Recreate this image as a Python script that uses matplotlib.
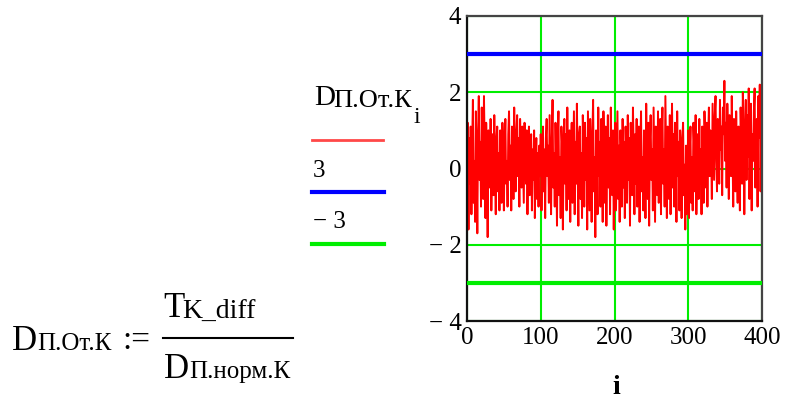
import matplotlib
matplotlib.use("Agg")
import matplotlib.pyplot as plt
import numpy as np

# ---- data ----
d_values = [
    0.3, 1.2, -1.6, 0.8, -0.4, 1.1, -1.2, 0.6, 1.8, -0.9, 0.2, -1.4, 1.5, 0.4, -1.7, 0.9, 1.9, -0.3, 0.7, -1.0,
    1.6, 0.1, -0.8, 1.9, 0.5, -1.3, 1.2, 0.3, -1.8, 1.0, 0.6, -0.5, 1.3, -1.1, 0.2, 0.9, -0.7, 1.4, 0.0, -1.2,
    0.8, 1.1, -0.6, 0.4, -1.1, 1.0, 0.3, -0.9, 1.2, 0.7, -1.1, 0.5, 1.3, -0.4, 0.2, -1.0, 0.9, 1.5, -0.3, 0.6,
    -1.1, 1.1, 0.4, -0.8, 1.6, 0.2, -0.6, 1.0, 1.4, -0.2, 0.8, -1.0, 1.3, 0.5, -0.5, 1.1, 0.1, -0.9, 1.2, 0.7,
    -0.4, 1.0, -1.2, 0.6, 1.1, -0.7, 0.3, 0.9, -1.1, 0.5, -0.3, 1.0, -1.3, 0.2, 0.8, -0.8, 0.4, -1.0, 0.6, -0.2,
    0.9, -1.1, 0.3, 1.1, -0.6, 0.5, -1.3, 0.8, 1.3, -0.2, 0.6, -0.9, 1.4, 0.1, -1.2, 0.7, 1.8, -0.5, 0.4, -1.0,
    1.2, 0.2, -1.5, 0.8, 1.5, -0.7, 0.3, -1.3, 1.1, 0.6, -1.6, 0.4, 1.3, -0.4, 0.9, -1.1, 1.6, 0.0, -0.8, 1.0,
    -1.4, 0.5, 1.2, -0.9, 0.3, 1.5, -1.2, 0.7, -0.4, 1.7, 0.2, -1.5, 0.9, 1.1, -0.8, 0.4, -1.3, 1.4, 0.6, -1.0,
    1.2, -0.3, 0.8, -1.6, 1.5, 0.1, -1.1, 1.3, 0.5, -1.4, 0.9, 1.8, -0.6, 0.3, -1.8, 1.0, 0.4, -1.2, 1.6, -0.2,
    0.7, -1.0, 1.3, 0.2, -1.4, 1.5, 0.6, -0.9, 1.1, -1.5, 0.3, 1.4, -0.5, 0.8, -1.2, 1.6, 0.1, -0.7, 1.0, -1.6,
    0.5, 1.2, -1.1, 0.2, 1.5, -0.8, 0.6, -1.4, 1.0, 0.3, -1.0, 1.3, -0.5, 0.7, -1.3, 1.1, 0.4, -0.9, 1.4, -0.3,
    0.8, -1.5, 1.2, 0.1, -0.7, 1.6, 0.5, -1.2, 0.9, -0.4, 1.3, -1.0, 0.2, 1.1, -1.4, 0.6, 1.5, -0.6, 0.3, -1.1,
    1.0, 0.4, -1.3, 1.7, 0.2, -0.8, 1.2, -1.5, 0.7, 1.4, -0.3, 0.5, -1.1, 1.6, 0.0, -1.4, 1.1, 0.6, -0.7, 1.5,
    -0.9, 0.3, 1.3, -1.2, 0.8, 1.6, -0.4, 0.5, -1.0, 1.9, 0.2, -1.3, 1.1, 0.6, -0.8, 1.4, -1.2, 0.4, 1.7, -0.5,
    0.9, -1.0, 1.2, 0.3, -1.4, 1.5, -0.2, 0.7, -1.1, 1.0, 0.4, -1.3, 0.8, 1.2, -0.7, 0.1, -1.6, 0.6, -1.2, 0.2,
    1.0, -1.3, 0.4, 1.1, -0.9, 0.3, -1.1, 1.2, 0.6, -0.6, 1.4, -1.2, 0.2, 0.9, -0.8, 1.3, -0.4, 0.5, -1.2, 1.1,
    0.3, -0.9, 1.5, 0.6, -0.5, 1.2, -1.0, 0.8, 1.6, -0.2, 1.0, 0.4, -0.8, 1.7, 0.7, -0.3, 1.4, 1.9, 0.2, -0.6,
    1.3, 0.8, -0.4, 1.8, 0.5, 1.1, -0.7, 1.6, 0.9, 2.3, 0.2, 1.2, -0.5, 1.7, 0.6, -0.8, 1.4, 1.0, -0.2, 1.9,
    0.4, -1.0, 1.3, 0.7, -0.6, 1.5, 0.1, -0.9, 1.1, 0.5, -1.1, 1.6, 0.8, -0.4, 2.0, 1.2, -1.2, 0.6, 1.8, -0.3,
    1.4, 0.3, 2.1, -0.8, 1.0, 1.7, -1.1, 0.9, 0.2, 1.5, 2.1, -0.5, 0.7, 1.3, -1.0, 1.9, 0.8, 2.2, -0.6, 1.2,
]
upper_limit = 3
lower_limit = -3
x_ticks = [0, 100, 200, 300, 400]
y_ticks = [-4, -2, 0, 2, 4]
y_tick_labels = ["\u2212 4", "\u2212 2", "0", "2", "4"]

W, H = 790, 403
FONT = "Liberation Serif"
plt.rcParams["font.family"] = [FONT, "DejaVu Serif"]

fig = plt.figure(figsize=(W / 100, H / 100), dpi=100)


def fx(x):
    return x / W


def fy(y):
    return 1 - y / H


ax = fig.add_axes([fx(467), fy(321), (762 - 467) / W, (321 - 16) / H])
i = np.arange(len(d_values))
green = "#00EE00"
ax.set_xlim(0, 400)
ax.set_ylim(-4, 4)
ax.set_xticks(x_ticks)
ax.set_yticks(y_ticks)
ax.set_yticklabels(y_tick_labels)
ax.grid(True, color=green, linewidth=1.5, zorder=0)
ax.set_axisbelow(True)
ax.plot(i, d_values, color="#FF0000", linewidth=1.4, zorder=2)
ax.axhline(upper_limit, color="#0000FF", linewidth=3, zorder=3)
ax.axhline(lower_limit, color="#00EE00", linewidth=3, zorder=3)
ax.tick_params(length=0, labelsize=18, pad=4)
for lab in ax.get_xticklabels() + ax.get_yticklabels():
    lab.set_fontfamily(FONT)
for s in ax.spines.values():
    s.set_color("#444444")
    s.set_linewidth(1.6)
ax.spines["left"].set_color("#111111")
ax.spines["bottom"].set_color("#111111")
fig.text(fx(616), fy(394), "i", fontsize=20, fontweight="bold", ha="center", va="baseline")

# ---- legend-like labels (Mathcad style) ----
fig.text(fx(314), fy(105), "D", fontsize=21, ha="left", va="baseline")
fig.text(fx(333), fy(107), "П.От.К", fontsize=19, ha="left", va="baseline")
fig.text(fx(413), fy(123), "i", fontsize=17, ha="left", va="baseline")
fig.add_artist(plt.Line2D([fx(312), fx(383)], [fy(140), fy(140)], color="#FF4848", linewidth=2))
fig.text(fx(313), fy(177), "3", fontsize=18, ha="left", va="baseline")
fig.add_artist(plt.Line2D([fx(312), fx(384)], [fy(192), fy(192)], color="#0000FF", linewidth=3))
fig.text(fx(313), fy(228), "\u2212 3", fontsize=18, ha="left", va="baseline")
fig.add_artist(plt.Line2D([fx(312), fx(384)], [fy(244), fy(244)], color="#00EE00", linewidth=3))

# ---- formula ----
fig.text(fx(12), fy(350), "D", fontsize=25, ha="left", va="baseline")
fig.text(fx(37), fy(350), "П.От.К", fontsize=18, ha="left", va="baseline")
fig.text(fx(122), fy(349), ":=", fontsize=24, ha="left", va="baseline")
fig.text(fx(163), fy(317), "T", fontsize=25, ha="left", va="baseline")
fig.text(fx(182), fy(318), "K_diff", fontsize=20, ha="left", va="baseline")
fig.add_artist(plt.Line2D([fx(163), fx(293)], [fy(338), fy(338)], color="black", linewidth=1.5))
fig.text(fx(164), fy(378), "D", fontsize=25, ha="left", va="baseline")
fig.text(fx(189), fy(378), "П.норм.К", fontsize=18, ha="left", va="baseline")

fig.savefig("out.png", dpi=100, facecolor="white")
